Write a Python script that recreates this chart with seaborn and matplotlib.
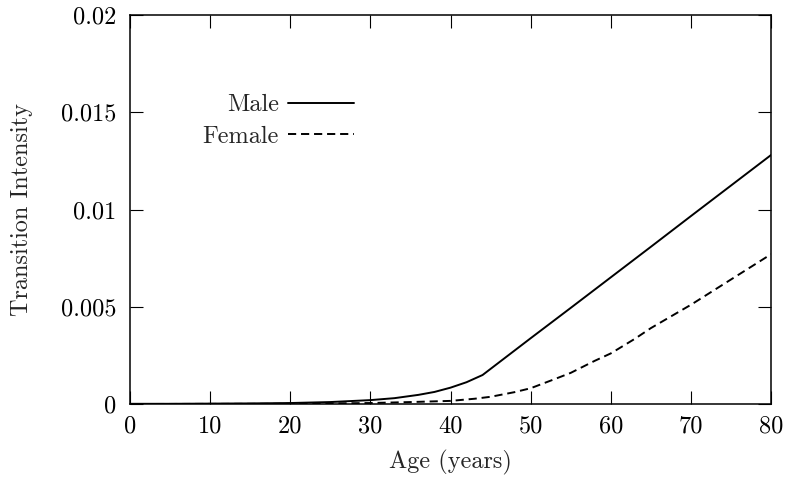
import pandas as pd
import matplotlib
matplotlib.use("Agg")
import matplotlib.pyplot as plt
import seaborn as sns

# values
male_age = [0, 5, 10, 15, 20, 25, 30, 33, 36, 38, 40, 42, 44, 50, 55, 60, 65, 70, 75, 80]
male_rate = [0.00001, 0.00001, 0.00002, 0.00003, 0.00005, 0.0001, 0.0002, 0.0003,
             0.00047, 0.00062, 0.00084, 0.00112, 0.00149, 0.00338, 0.00494, 0.00651,
             0.00808, 0.00966, 0.01123, 0.0128]

female_age = [0, 10, 20, 25, 30, 35, 40, 43, 45, 48, 50, 53, 55, 58, 60, 63, 65, 70, 75, 80]
female_rate = [0.0, 0.000005, 0.00001, 0.00003, 0.00005, 0.0001, 0.00016, 0.00027,
               0.00037, 0.00061, 0.00081, 0.00128, 0.0016, 0.00222, 0.0026, 0.00335,
               0.0039, 0.0051, 0.0064, 0.0077]

x_ticks = [0, 10, 20, 30, 40, 50, 60, 70, 80]
y_ticks = [0, 0.005, 0.01, 0.015, 0.02]
y_tick_labels = ["0", "0.005", "0.01", "0.015", "0.02"]

df = pd.concat([
    pd.DataFrame({"Age": male_age, "Rate": male_rate, "Sex": "Male"}),
    pd.DataFrame({"Age": female_age, "Rate": female_rate, "Sex": "Female"}),
], ignore_index=True)

sns.set_style("ticks")
plt.rcParams['font.family'] = 'serif'
plt.rcParams['font.serif'] = ['cmr10', 'DejaVu Serif']
plt.rcParams['axes.formatter.use_mathtext'] = True

fs = 17.5

fig = plt.figure(figsize=(7.89, 4.82), dpi=100)
ax = fig.add_axes([130 / 789, 1 - 404 / 482, 641 / 789, 389 / 482])

sns.lineplot(data=df, x="Age", y="Rate", style="Sex", hue="Sex",
             palette={"Male": "black", "Female": "black"},
             dashes={"Male": "", "Female": (4.2, 2.5)},
             linewidth=1.4, ax=ax, sort=False)

ax.set_xlim(0, 80)
ax.set_ylim(0, 0.02)
ax.set_xticks(x_ticks)
ax.set_xticklabels([str(t) for t in x_ticks])
ax.set_yticks(y_ticks)
ax.set_yticklabels(y_tick_labels)
ax.tick_params(axis="both", direction="in", length=9.5, width=0.8, labelsize=fs,
               top=True, right=True, colors="black")
ax.tick_params(axis="x", pad=8)
ax.tick_params(axis="y", pad=10)
for s in ax.spines.values():
    s.set_visible(True)
    s.set_linewidth(1.1)
    s.set_color("black")

ax.set_xlabel("Age (years)", fontsize=fs, labelpad=9)
ax.set_ylabel("Transition Intensity", fontsize=fs, labelpad=20)

ax.legend(title=None, loc="upper right", bbox_to_anchor=(354 / 789, 1 - 94 / 482),
          bbox_transform=fig.transFigure, frameon=False, markerfirst=False,
          fontsize=fs, handlelength=2.7, handletextpad=0.4, borderpad=0,
          borderaxespad=0, labelspacing=0.4)

fig.savefig("out.png", dpi=100)
